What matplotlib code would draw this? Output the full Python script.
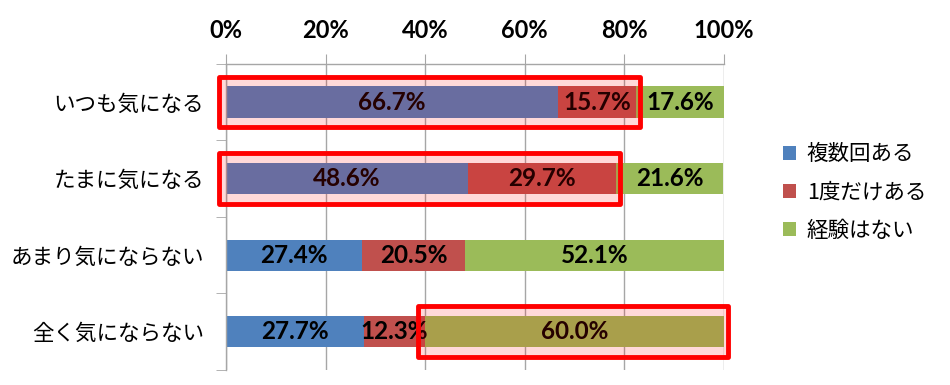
import matplotlib
matplotlib.use("Agg")
import matplotlib.pyplot as plt
from matplotlib.patches import Rectangle
import numpy as np

plt.rcParams['font.family'] = ['Noto Sans CJK JP', 'DejaVu Sans']

# data
categories = ["いつも気になる", "たまに気になる", "あまり気にならない", "全く気にならない"]
series_names = ["複数回ある", "1度だけある", "経験はない"]
multi = [66.7, 48.6, 27.4, 27.7]
once = [15.7, 29.7, 20.5, 12.3]
never = [17.6, 21.6, 52.1, 60.0]
x_ticks = [0, 20, 40, 60, 80, 100]
# highlighted boxes: (row, first segment, last segment)
highlights = [(0, 0, 1), (1, 0, 1), (3, 2, 2)]

colors = ["#4F81BD", "#C0504D", "#9BBB59"]
grid_col = "#A6A6A6"

fig = plt.figure(figsize=(9.5, 3.85), dpi=100)
ax = fig.add_axes([0.238, 0.039, 0.524, 0.795])

values = np.array([multi, once, never])
y = np.arange(len(categories))
left = np.zeros(len(categories))
for i, name in enumerate(series_names):
    ax.barh(y, values[i], left=left, height=0.41, color=colors[i],
            label=name, zorder=2)
    for j in range(len(categories)):
        ax.text(left[j] + values[i][j] / 2, y[j], "%.1f%%" % values[i][j],
                ha="center", va="center", fontsize=17.5, fontweight="bold",
                family="Lato", color="black", zorder=3)
    left = left + values[i]

starts = np.vstack([np.zeros(len(categories)), np.cumsum(values, axis=0)[:-1]])
ends = np.cumsum(values, axis=0)
for row, s0, s1 in highlights:
    x0 = starts[s0][row] - 1.4
    x1 = ends[s1][row] + 0.8
    ax.add_patch(Rectangle((x0, row - 0.33), x1 - x0, 0.66,
                           facecolor=(1, 0, 0, 0.15), edgecolor="#FF0000",
                           linewidth=3.5, joinstyle="round", zorder=4,
                           clip_on=False))

ax.set_xlim(0, 100)
ax.set_ylim(len(categories) - 0.5, -0.5)
ax.xaxis.tick_top()
ax.set_xticks(x_ticks)
ax.set_xticklabels(["%d%%" % t for t in x_ticks], fontsize=17,
                   fontweight="bold", family="Lato")
ax.tick_params(axis="x", length=7, color=grid_col, pad=9)
ax.xaxis.grid(True, color=grid_col, linewidth=1, zorder=0)
ax.set_axisbelow(True)

ax.set_yticks(y)
ax.set_yticklabels(categories, fontsize=15.5)
ax.set_yticks(np.arange(len(categories) + 1) - 0.5, minor=True)
ax.tick_params(axis="y", which="major", length=0, pad=16)
ax.tick_params(axis="y", which="minor", length=7, color=grid_col)

for side in ["right", "bottom"]:
    ax.spines[side].set_visible(False)
for side in ["left", "top"]:
    ax.spines[side].set_color(grid_col)
    ax.spines[side].set_linewidth(1)

ax.legend(loc="center left", bbox_to_anchor=(1.08, 0.58), frameon=False,
          fontsize=15.5, handlelength=0.6, handleheight=0.6, handletextpad=0.5,
          labelspacing=0.75)

fig.savefig("out.png", dpi=100)
